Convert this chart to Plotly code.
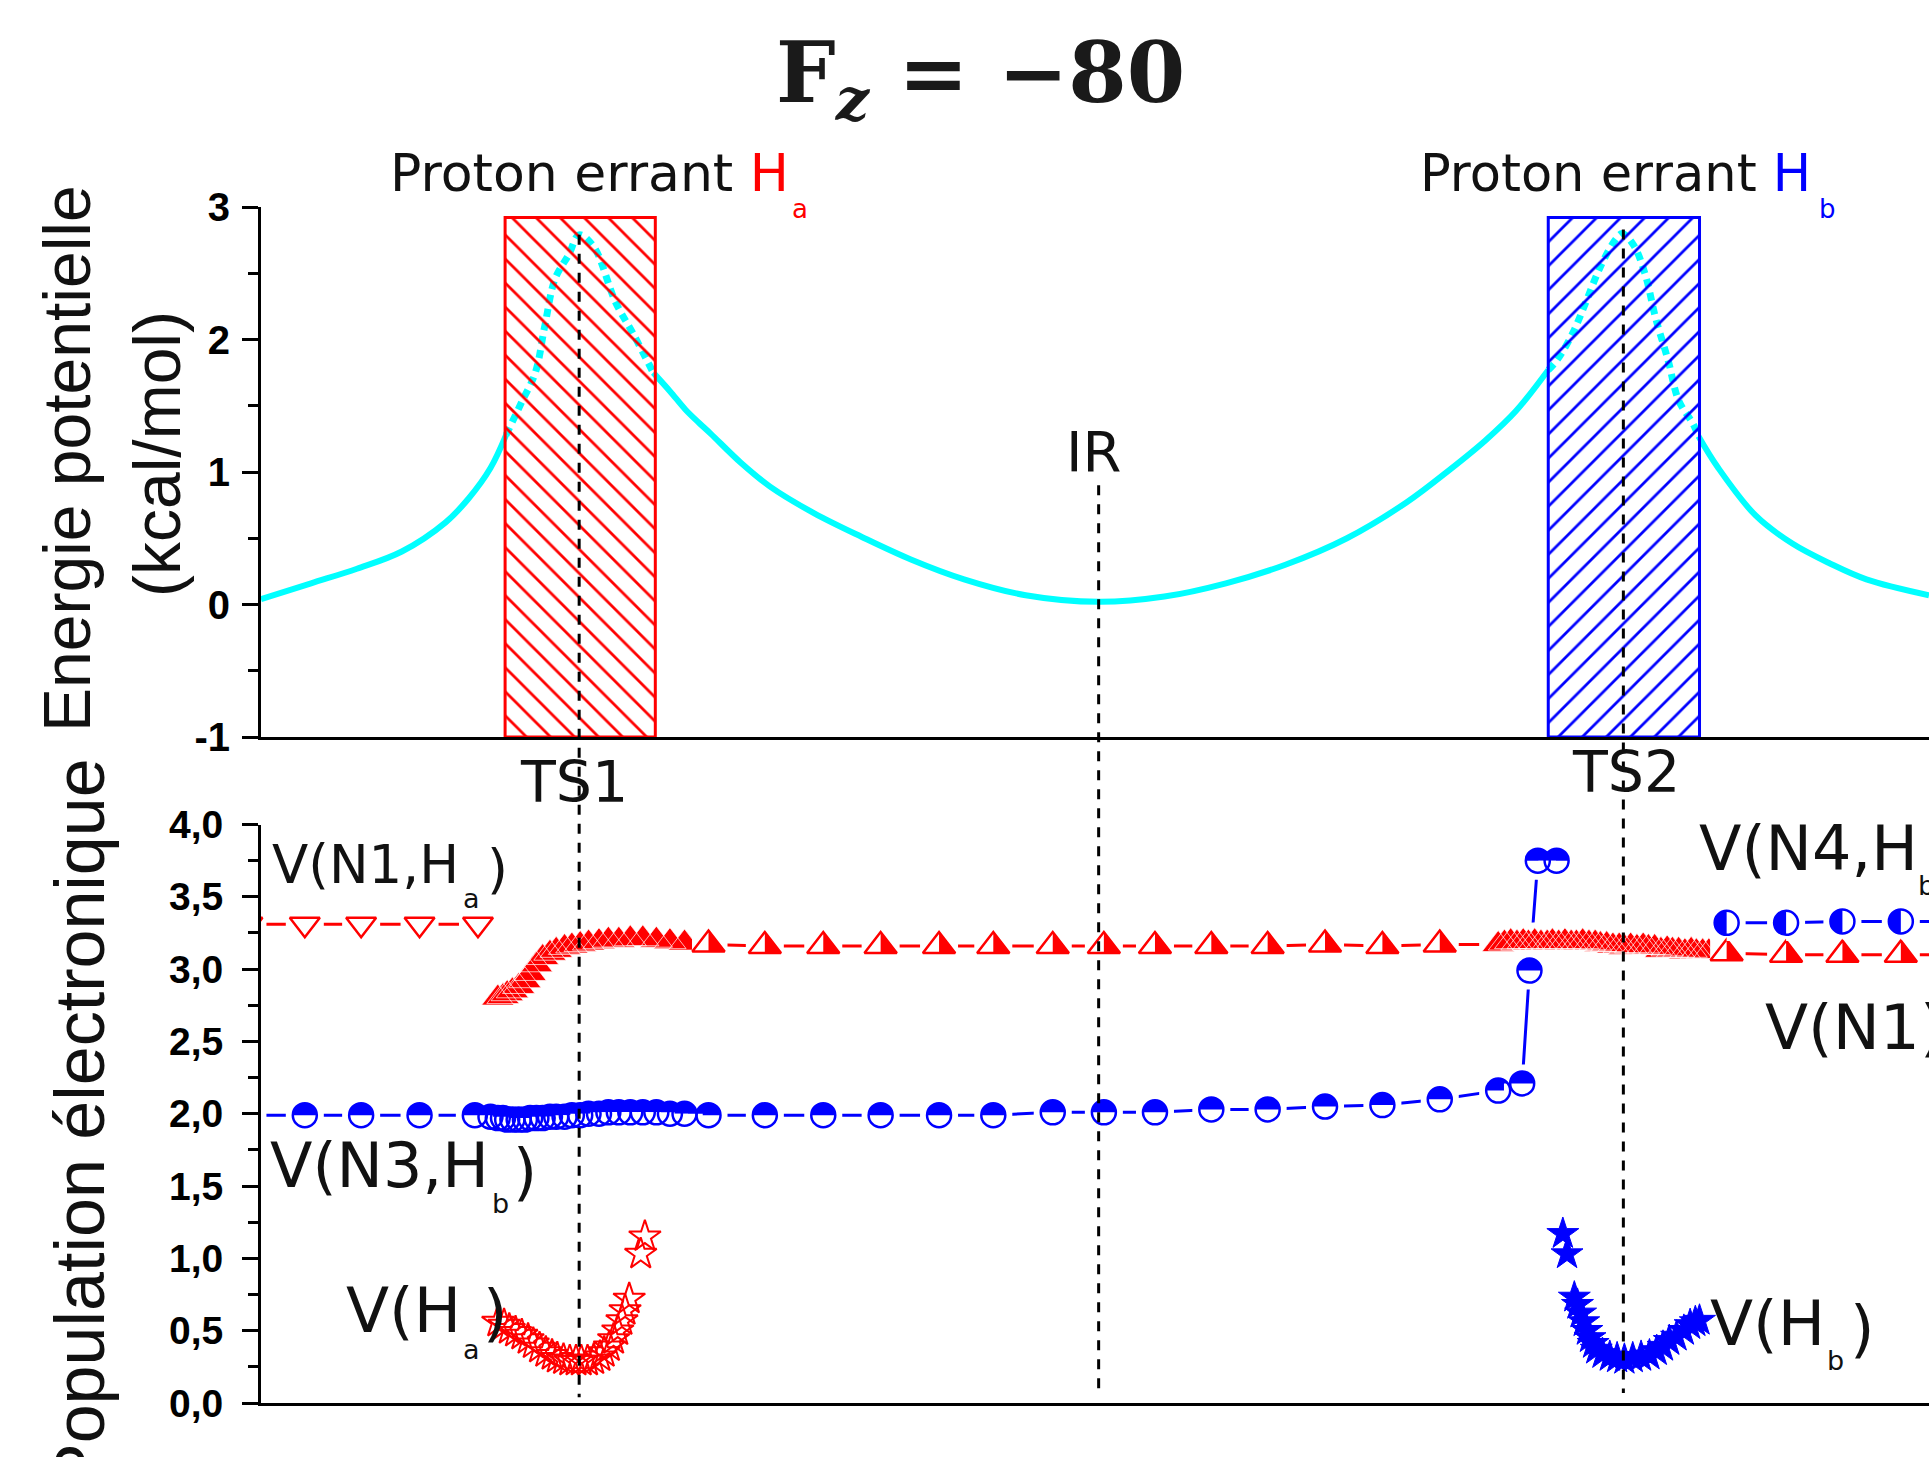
import plotly.graph_objects as go

W, H = 1929, 1457

# ---------------- DATA ----------------
# reaction coordinate (arbitrary IRC units): IR at 0, TS1 ~ -4.98, TS2 ~ 5.03
irc_s = [-8.03, -7.55, -7.11, -6.68, -6.26, -6.04, -5.83, -5.68, -5.53, -5.40, -5.31, -5.21,
         -5.08, -4.98, -4.84, -4.63, -4.46, -4.27, -4.11, -3.96, -3.83, -3.72, -3.43, -3.15,
         -2.73, -2.27, -1.80, -1.29, -0.70, 0.00, 0.63, 1.22, 1.79, 2.38, 2.95, 3.37, 3.71,
         4.00, 4.31, 4.39, 4.54, 4.67, 4.81, 4.96, 5.02, 5.13, 5.24, 5.34, 5.46, 5.56, 5.70,
         5.75, 5.94, 6.30, 6.65, 7.01, 7.36, 7.96]
energy = [0.04, 0.16, 0.27, 0.40, 0.62, 0.80, 1.03, 1.28, 1.53, 1.75, 2.10, 2.46,
          2.64, 2.79, 2.70, 2.28, 2.04, 1.75, 1.61, 1.47, 1.37, 1.29, 1.07, 0.89,
          0.69, 0.51, 0.34, 0.19, 0.07, 0.02, 0.06, 0.16, 0.30, 0.50, 0.77, 1.02, 1.24,
          1.46, 1.77, 1.84, 2.04, 2.28, 2.55, 2.76, 2.80, 2.71, 2.49, 2.16, 1.84, 1.54, 1.36,
          1.27, 1.03, 0.67, 0.46, 0.31, 0.19, 0.07]

box_Ha = [-5.69, -4.25]     # wandering proton Ha region
box_Hb = [4.31, 5.76]       # wandering proton Hb region
box_top = 2.92

ts_names = ["TS1", "IR", "TS2"]
ts_s = [-4.98, 0.00, 5.03]

# bottom panel: electron populations
s_N1Ha = [-8.16, -7.61, -7.07, -6.51, -5.95]
v_N1Ha = [3.31, 3.31, 3.31, 3.31, 3.31]

s_N1 = [-5.76, -5.71, -5.67, -5.62, -5.56, -5.50, -5.45, -5.39, -5.33, -5.26, -5.20, -5.12,
        -5.05, -4.97, -4.89, -4.79, -4.70, -4.60, -4.49, -4.37, -4.24, -4.11, -3.97,
        -3.74, -3.20, -2.64, -2.09, -1.53, -1.01, -0.44, 0.05, 0.54, 1.08, 1.62, 2.17, 2.72,
        3.27, 3.83,
        3.89, 3.95, 4.01, 4.07, 4.12, 4.18, 4.24, 4.30, 4.35, 4.41, 4.47, 4.53, 4.58, 4.64,
        4.70, 4.76, 4.81, 4.87, 4.93, 4.99, 5.04, 5.10, 5.16, 5.22, 5.27, 5.33, 5.39, 5.45,
        5.50, 5.56, 5.62, 5.68, 5.73, 5.79, 5.85,
        6.02, 6.59, 7.13, 7.69, 8.25]
v_N1 = [2.80, 2.81, 2.83, 2.85, 2.88, 2.92, 2.97, 3.03, 3.08, 3.11, 3.13, 3.15,
        3.16, 3.17, 3.18, 3.19, 3.20, 3.20, 3.21, 3.21, 3.20, 3.19, 3.18,
        3.17, 3.16, 3.16, 3.16, 3.16, 3.16, 3.16, 3.16, 3.16, 3.16, 3.16, 3.17, 3.16,
        3.17, 3.17,
        3.18, 3.19, 3.18, 3.19, 3.18, 3.19, 3.18, 3.18, 3.19, 3.18, 3.19, 3.18, 3.18, 3.19,
        3.18, 3.18, 3.17, 3.17, 3.16, 3.16, 3.15, 3.16, 3.15, 3.16, 3.15, 3.15, 3.13, 3.14,
        3.13, 3.13, 3.12, 3.13, 3.12, 3.12, 3.12,
        3.11, 3.10, 3.10, 3.10, 3.10]

s_N3Hb = [-8.16, -7.61, -7.07, -6.51, -5.98,
          -5.83, -5.76, -5.71, -5.67, -5.62, -5.56, -5.50, -5.45, -5.39, -5.33, -5.26, -5.20,
          -5.12, -5.05, -4.97, -4.89, -4.79, -4.70, -4.60, -4.49, -4.37, -4.24, -4.11, -3.97,
          -3.74, -3.20, -2.64, -2.09, -1.53, -1.01, -0.44, 0.05, 0.54, 1.08, 1.62, 2.17, 2.72,
          3.27, 3.83,
          4.06, 4.13, 4.21, 4.39]
v_N3Hb = [1.99, 1.99, 1.99, 1.99, 1.99,
          1.98, 1.97, 1.97, 1.96, 1.96, 1.96, 1.96, 1.97, 1.97, 1.97, 1.98, 1.98,
          1.98, 1.99, 1.99, 2.00, 2.00, 2.01, 2.01, 2.01, 2.01, 2.01, 2.00, 2.00,
          1.99, 1.99, 1.99, 1.99, 1.99, 1.99, 2.01, 2.01, 2.01, 2.03, 2.03, 2.05, 2.06,
          2.10, 2.16,
          2.21, 2.99, 3.75, 3.75]

s_N4Hb = [6.02, 6.59, 7.13, 7.69, 8.25]
v_N4Hb = [3.32, 3.32, 3.33, 3.33, 3.33]

s_Ha = [-5.76, -5.70, -5.65, -5.59, -5.53, -5.47, -5.42, -5.36, -5.30, -5.24, -5.19, -5.13,
        -5.07, -5.01, -4.96, -4.90, -4.84, -4.78, -4.74, -4.69, -4.65, -4.61, -4.57, -4.54,
        -4.50, -4.39, -4.35]
v_Ha = [0.56, 0.54, 0.51, 0.49, 0.47, 0.44, 0.41, 0.38, 0.35, 0.33, 0.31, 0.30,
        0.29, 0.29, 0.29, 0.29, 0.30, 0.32, 0.35, 0.39, 0.44, 0.50, 0.57, 0.64,
        0.72, 1.03, 1.15]

s_Hb = [4.45, 4.49, 4.56, 4.59, 4.62, 4.65, 4.68, 4.71, 4.74, 4.77, 4.83, 4.90, 4.97,
        5.04, 5.12, 5.20, 5.28, 5.35, 5.41, 5.47, 5.54, 5.61, 5.67, 5.72, 5.76]
v_Hb = [1.17, 1.03, 0.73, 0.68, 0.62, 0.56, 0.50, 0.45, 0.41, 0.37, 0.34, 0.32, 0.31,
        0.30, 0.31, 0.32, 0.33, 0.36, 0.39, 0.43, 0.46, 0.50, 0.54, 0.56, 0.57]

top_tickvals = [-1, 0, 1, 2, 3]
top_ticktext = ["-1", "0", "1", "2", "3"]
bot_tickvals = [0.0, 0.5, 1.0, 1.5, 2.0, 2.5, 3.0, 3.5, 4.0]
bot_ticktext = ["0,0", "0,5", "1,0", "1,5", "2,0", "2,5", "3,0", "3,5", "4,0"]

# ---------------- LAYOUT GEOMETRY ----------------
X_RANGE = [-8.03, 7.96]
X_DOM = [261 / W, 1.0]
TOP_RANGE = [-1, 3]
BOT_RANGE = [0, 4]
TOP_DOM = [1 - 737 / H, 1 - 207 / H]
BOT_DOM = [1 - 1403 / H, 1 - 824.5 / H]

RED = "#FF0000"
BLUE = "#0000FF"
CYAN = "#00FFFF"
TXT = "#111111"
SANS = "DejaVu Sans"
ARIAL = "Liberation Sans"


def top_paper(v):
    return TOP_DOM[0] + (v - TOP_RANGE[0]) / (TOP_RANGE[1] - TOP_RANGE[0]) * (TOP_DOM[1] - TOP_DOM[0])


def bot_paper(v):
    return BOT_DOM[0] + (v - BOT_RANGE[0]) / (BOT_RANGE[1] - BOT_RANGE[0]) * (BOT_DOM[1] - BOT_DOM[0])


def px(x):
    return x / W


def py(y):
    return 1 - y / H


fig = go.Figure()

# ---- top panel: energy curve (solid outside boxes, dotted inside) ----
def in_box(s):
    return box_Ha[0] <= s <= box_Ha[1] or box_Hb[0] <= s <= box_Hb[1]


inside = [in_box(s) for s in irc_s]
n = len(irc_s)
solid_y, dot_y = [], []
for i in range(n):
    keep_solid = (not inside[i]) or (i > 0 and not inside[i - 1]) or (i < n - 1 and not inside[i + 1])
    solid_y.append(energy[i] if keep_solid else None)
    dot_y.append(energy[i] if inside[i] else None)

fig.add_trace(go.Scatter(x=irc_s, y=solid_y, mode="lines", xaxis="x", yaxis="y",
                         line=dict(color=CYAN, width=6, shape="spline", smoothing=1.0),
                         connectgaps=False, hoverinfo="skip"))
fig.add_trace(go.Scatter(x=irc_s, y=dot_y, mode="lines", xaxis="x", yaxis="y",
                         line=dict(color=CYAN, width=7, dash="8px,6px", shape="spline", smoothing=1.0),
                         connectgaps=False, hoverinfo="skip"))

# hatched boxes
for bx, col, pat in [(box_Ha, RED, "\\"), (box_Hb, BLUE, "/")]:
    fig.add_trace(go.Scatter(
        x=[bx[0], bx[1], bx[1], bx[0], bx[0]],
        y=[TOP_RANGE[0], TOP_RANGE[0], box_top, box_top, TOP_RANGE[0]],
        mode="lines", fill="toself", fillcolor="rgba(0,0,0,0)",
        fillpattern=dict(shape=pat, fgcolor=col, fgopacity=1, size=17, solidity=0.16),
        line=dict(color=col, width=3), xaxis="x", yaxis="y", hoverinfo="skip"))

# ---- bottom panel ----
line_series = [(s_N1Ha, v_N1Ha, RED), (s_N1, v_N1, RED), (s_N3Hb, v_N3Hb, BLUE), (s_N4Hb, v_N4Hb, BLUE)]
for sx, sv, col in line_series:
    fig.add_trace(go.Scatter(x=sx, y=sv, mode="lines", xaxis="x2", yaxis="y2",
                             line=dict(color=col, width=3), hoverinfo="skip"))
# white masks leave gaps in the lines around each marker
for sx, sv, col in line_series:
    fig.add_trace(go.Scatter(x=sx, y=sv, mode="markers", xaxis="x2", yaxis="y2",
                             marker=dict(symbol="square", size=38, color="white", line=dict(width=0)),
                             hoverinfo="skip"))


def mk(sx, sv, **marker):
    fig.add_trace(go.Scatter(x=sx, y=sv, mode="markers", xaxis="x2", yaxis="y2",
                             marker=marker, hoverinfo="skip"))


def half_filled(sx, sv, col, symbol, size, cover_len, cover_w, angle):
    # filled shape, then a white band hiding one half, then the outline
    mk(sx, sv, symbol=symbol, size=size, color=col, line=dict(width=0))
    mk(sx, sv, symbol="line-ew", size=cover_len, angle=angle, standoff=cover_w / 2,
       line=dict(color="white", width=cover_w))
    mk(sx, sv, symbol=symbol + "-open", size=size, color=col, line=dict(color=col, width=2.5))


# V(N1,Ha): open down triangles
mk(s_N1Ha, v_N1Ha, symbol="triangle-down-open", size=26, color=RED, line=dict(color=RED, width=2.5))

# V(N1): up triangles, right half filled; where the points pile up (near the TS)
# the overlapping markers merge into a red textured band
gap = []
for i in range(len(s_N1)):
    d = []
    if i > 0:
        d.append(abs(s_N1[i] - s_N1[i - 1]))
    if i < len(s_N1) - 1:
        d.append(abs(s_N1[i + 1] - s_N1[i]))
    gap.append(min(d))
dense = [g < 0.15 for g in gap]
s_dn = [s for s, d in zip(s_N1, dense) if d]
v_dn = [v for v, d in zip(v_N1, dense) if d]
s_sp = [s for s, d in zip(s_N1, dense) if not d]
v_sp = [v for v, d in zip(v_N1, dense) if not d]
mk(s_dn, v_dn, symbol="triangle-up", size=28, color=RED, line=dict(width=0))
mk(s_dn, v_dn, symbol="triangle-up-open", size=28, color="white", line=dict(color="white", width=0.7))
half_filled(s_sp, v_sp, RED, "triangle-up", 28, 30, 16.5, 90)

# V(N3,Hb): circles, upper half filled (hide lower half)
half_filled(s_N3Hb, v_N3Hb, BLUE, "circle", 24, 26, 13, 0)
# V(N4,Hb): circles, left half filled (hide right half)
half_filled(s_N4Hb, v_N4Hb, BLUE, "circle", 24, 26, 13, -90)
# V(Ha), V(Hb): stars
mk(s_Ha, v_Ha, symbol="star-open", size=24, color=RED, line=dict(color=RED, width=2))
mk(s_Hb, v_Hb, symbol="star", size=24, color=BLUE, line=dict(color=BLUE, width=1))

# ---- dashed vertical guide lines (TS1, IR, TS2) ----
guide_top = [2.79, 0.90, 2.83]     # start in top panel (kcal/mol)
guide_bot = [0.04, 0.08, 0.07]     # end in bottom panel (population)
shapes = []
for xs, t, b in zip(ts_s, guide_top, guide_bot):
    shapes.append(dict(type="line", xref="x", yref="paper", x0=xs, x1=xs,
                       y0=top_paper(t), y1=bot_paper(b),
                       line=dict(color="black", width=3, dash="10px,9px")))

# ---- axes ----
axis_common = dict(showgrid=False, zeroline=False, showline=True, linecolor="black", linewidth=3,
                   automargin=False)
layout = dict(
    width=W, height=H, margin=dict(l=0, r=0, t=0, b=0, pad=0, autoexpand=False),
    paper_bgcolor="white", plot_bgcolor="white", showlegend=False,
    xaxis=dict(domain=X_DOM, range=X_RANGE, anchor="y", ticks="", showticklabels=False, **axis_common),
    yaxis=dict(domain=TOP_DOM, range=TOP_RANGE, anchor="x", tickmode="array",
               tickvals=top_tickvals, ticktext=top_ticktext, ticks="outside", ticklen=16, tickwidth=3,
               tickcolor="black", ticklabelstandoff=4,
               tickfont=dict(family=ARIAL, size=40, color="black", weight="bold"),
               minor=dict(tickmode="array", tickvals=[-0.5, 0.5, 1.5, 2.5], ticks="outside",
                          ticklen=10, tickwidth=3, tickcolor="black"),
               **axis_common),
    xaxis2=dict(domain=X_DOM, range=X_RANGE, anchor="y2", ticks="", showticklabels=False, **axis_common),
    yaxis2=dict(domain=BOT_DOM, range=BOT_RANGE, anchor="x2", tickmode="array",
                tickvals=bot_tickvals, ticktext=bot_ticktext, ticks="outside", ticklen=16, tickwidth=3,
                tickcolor="black", ticklabelstandoff=11,
                tickfont=dict(family=ARIAL, size=39, color="black", weight="bold"),
                minor=dict(tickmode="array", tickvals=[0.25, 0.75, 1.25, 1.75, 2.25, 2.75, 3.25, 3.75],
                           ticks="outside", ticklen=10, tickwidth=3, tickcolor="black"),
                **axis_common),
    shapes=shapes,
)
fig.update_layout(**layout)

# ---- text annotations ----
anns = []


def ann(text, x, y, size, color=TXT, xanchor="left", family=SANS, angle=0, yanchor="middle"):
    anns.append(dict(text=text, x=px(x), y=py(y), xref="paper", yref="paper", showarrow=False,
                     xanchor=xanchor, yanchor=yanchor, textangle=angle,
                     font=dict(family=family, size=size, color=color)))


# title
ann("<b>F</b><sub><b><i>z</i></b></sub><b> = \u221280</b>", 981, 79, 84, color="#1a1a1a",
    xanchor="center", family="DejaVu Serif")
# axis titles
ann("Energie potentielle", 67, 459, 66, family=ARIAL, xanchor="center", angle=-90)
ann("(kcal/mol)", 157, 454, 66, family=ARIAL, xanchor="center", angle=-90)
ann("Population \u00e9lectronique", 80, 1124, 70, family=ARIAL, xanchor="center", angle=-90)
# proton labels
ann("Proton errant <span style='color:#FF0000'>H</span>", 388, 173, 52)
ann("a", 800, 209, 26, color=RED, xanchor="center")
ann("Proton errant <span style='color:#0000FF'>H</span>", 1418, 174, 51)
ann("b", 1827, 209, 26, color=BLUE, xanchor="center")
# TS / IR labels
ann(ts_names[0], 574, 782, 57, xanchor="center")
ann(ts_names[1], 1093, 452, 56, xanchor="center")
ann(ts_names[2], 1626, 772, 57, xanchor="center")
# population labels
ann("V(N1,H", 270, 864, 53)
ann("a", 471, 898, 27, xanchor="center")
ann(")", 485, 869, 54)
ann("V(N3,H", 268, 1165, 62)
ann("b", 500, 1203, 27, xanchor="center")
ann(")", 511, 1171, 62)
ann("V(H", 344, 1310, 63)
ann("a", 471, 1349, 27, xanchor="center")
ann(")", 481, 1312, 63)
ann("V(H", 1708, 1323, 63)
ann("b", 1835, 1360, 27, xanchor="center")
ann(")", 1848, 1328, 63)
ann("V(N4,H", 1697, 848, 62)
ann("b", 1926, 886, 27, xanchor="center")
ann("V(N1)", 1763, 1027, 63)

fig.update_layout(annotations=anns)
fig.write_html("out.html")
